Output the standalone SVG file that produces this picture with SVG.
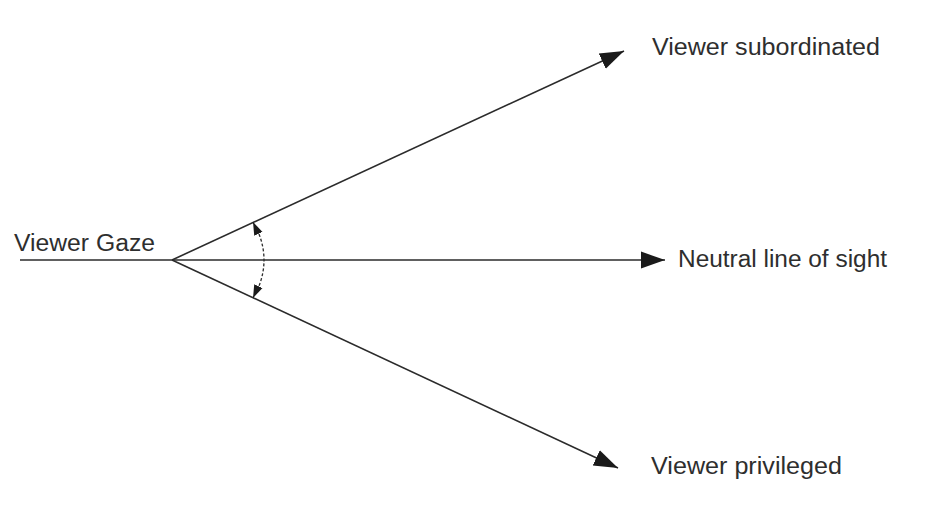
<svg xmlns="http://www.w3.org/2000/svg" width="944" height="518" viewBox="0 0 944 518">
<defs>
<style>
.ln{stroke:#2b2b2b;stroke-width:1.6;fill:none}
.arc{stroke:#2b2b2b;stroke-width:1.3;fill:none;stroke-dasharray:3 2}
.lbl{font-family:"Liberation Sans",Arial,sans-serif;font-size:23px;fill:#2e2e2e}
</style>
<marker id="ah" viewBox="0 0 10 10" refX="10" refY="5" markerWidth="24" markerHeight="24" markerUnits="userSpaceOnUse" orient="auto">
<path d="M0,1.5 L10,5 L0,8.5 Z" fill="#1a1a1a"/>
</marker>
<marker id="sh" viewBox="0 0 10 10" refX="10" refY="5" markerWidth="13" markerHeight="13" markerUnits="userSpaceOnUse" orient="auto">
<path d="M0,1.5 L10,5 L0,8.5 Z" fill="#1a1a1a"/>
</marker>
</defs>
<rect width="944" height="518" fill="#ffffff"/>
<g id="connectors">
<line class="ln" x1="20" y1="260" x2="172" y2="260"/>
<line class="ln" x1="172" y1="260" x2="665" y2="260" marker-end="url(#ah)"/>
<line class="ln" x1="172" y1="260" x2="624" y2="51" marker-end="url(#ah)"/>
<line class="ln" x1="172" y1="260" x2="618" y2="468" marker-end="url(#ah)"/>
<path class="arc" d="M259,234 Q269,260 259,286"/>
<path class="arc" d="M258,233 L253,222" marker-end="url(#sh)"/>
<path class="arc" d="M258,287 L253,298" marker-end="url(#sh)"/>
</g>
<g id="viewer-gaze"><text class="lbl" x="14" y="251" textLength="141" lengthAdjust="spacingAndGlyphs">Viewer Gaze</text></g>
<g id="viewer-subordinated"><text class="lbl" x="652" y="55" textLength="228" lengthAdjust="spacingAndGlyphs">Viewer subordinated</text></g>
<g id="neutral-line"><text class="lbl" x="678" y="267" textLength="209" lengthAdjust="spacingAndGlyphs">Neutral line of sight</text></g>
<g id="viewer-privileged"><text class="lbl" x="651" y="474" textLength="191" lengthAdjust="spacingAndGlyphs">Viewer privileged</text></g>
</svg>
